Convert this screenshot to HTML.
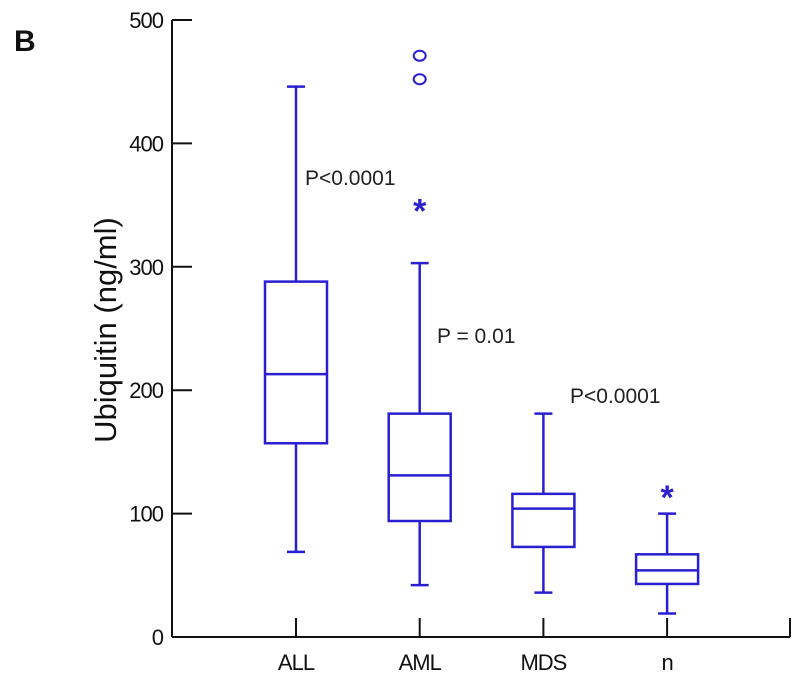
<!DOCTYPE html>
<html><head><meta charset="utf-8"><style>
body{margin:0;background:#fff;}
svg text{font-family:"Liberation Sans",Arial,sans-serif;}
</style></head><body>
<svg id="chart" width="800" height="685" viewBox="0 0 800 685" xmlns="http://www.w3.org/2000/svg">
<text x="14" y="51" font-size="30" font-weight="bold" fill="#111">B</text>
<text transform="translate(116,330) rotate(-90)" text-anchor="middle" font-size="31" fill="#111">Ubiquitin (ng/ml)</text>
<g id="axes"></g>
<g id="marks"></g>
<text x="305" y="185" font-size="21" fill="#222">P&lt;0.0001</text>
<text x="437" y="343" font-size="21" fill="#222">P = 0.01</text>
<text x="570" y="403" font-size="21" fill="#222">P&lt;0.0001</text>
</svg>
<script>
const categories=["ALL","AML","MDS","n"];
const whiskerLow=[69,42,36,19];
const q1=[157,94,73,43];
const median=[213,131,104,54];
const q3=[288,181,116,67];
const whiskerHigh=[446,303,181,100];
const circleOutliers=[[],[471,452],[],[]];
const starOutliers=[[],[348],[],[116]];
const yTicks=[0,100,200,300,400,500];

const NS="http://www.w3.org/2000/svg";
const C="#2a1fd0";
const y=v=>637-v*1.234;
const x=i=>296+i*123.7;
const bw=62;
function mk(parent,tag,attrs){const e=document.createElementNS(NS,tag);for(const k in attrs)e.setAttribute(k,attrs[k]);parent.appendChild(e);return e;}
const axes=document.getElementById('axes');
const marks=document.getElementById('marks');
let e=mk(axes,'line',{x1:172,y1:y(500),x2:172,y2:637,stroke:'#111','stroke-width':2});


e=mk(axes,'line',{x1:172,y1:637,x2:790,y2:637,stroke:'#111','stroke-width':2});


e=mk(axes,'line',{x1:790,y1:618,x2:790,y2:637,stroke:'#111','stroke-width':2});


yTicks.forEach(t=>{
  let l=mk(axes,'line',{x1:172,y1:y(t),x2:192,y2:y(t),stroke:'#111','stroke-width':2});
  
  
  let tx=mk(axes,'text',{x:163,y:y(t)+8,'text-anchor':'end','font-size':22,fill:'#111','letter-spacing':'-1'});
  tx.textContent=t;
  
  
});
categories.forEach((c,i)=>{
  const cx=x(i);
  let l=mk(axes,'line',{x1:cx,y1:618,x2:cx,y2:637,stroke:'#111','stroke-width':2});
  
  
  let tx=mk(axes,'text',{x:cx,y:670,'text-anchor':'middle','font-size':22,fill:'#111','letter-spacing':'-1'});
  tx.textContent=c;
  
  
  const g=mk(marks,'g',{stroke:C,'stroke-width':2.5,fill:'none'});
  
  
  mk(g,'line',{x1:cx,y1:y(whiskerHigh[i]),x2:cx,y2:y(q3[i])});
  mk(g,'line',{x1:cx,y1:y(q1[i]),x2:cx,y2:y(whiskerLow[i])});
  mk(g,'line',{x1:cx-9,y1:y(whiskerHigh[i]),x2:cx+9,y2:y(whiskerHigh[i])});
  mk(g,'line',{x1:cx-9,y1:y(whiskerLow[i]),x2:cx+9,y2:y(whiskerLow[i])});
  mk(g,'rect',{x:cx-bw/2,y:y(q3[i]),width:bw,height:y(q1[i])-y(q3[i])});
  mk(g,'line',{x1:cx-bw/2,y1:y(median[i]),x2:cx+bw/2,y2:y(median[i])});
  circleOutliers[i].forEach(v=>{
    let o=mk(marks,'ellipse',{cx:cx,cy:y(v),rx:6,ry:5,stroke:C,'stroke-width':2,fill:'none'});
    
    
  });
  starOutliers[i].forEach(v=>{
    let s=mk(marks,'text',{x:cx,y:y(v)+15,'text-anchor':'middle','font-size':34,'font-weight':'bold',fill:C});
    s.textContent='*';
    
    
  });
});
</script>
</body></html>
